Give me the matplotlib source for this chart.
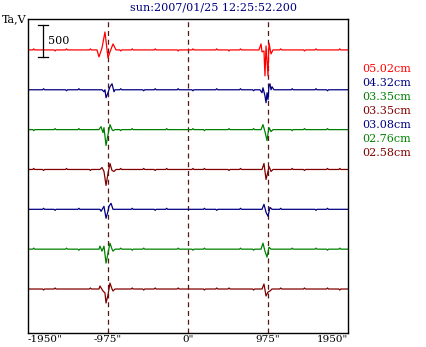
import numpy as np
import matplotlib.pyplot as plt

plt.rcParams['font.family'] = ['DejaVu Serif']

# channels, top to bottom
labels = ["05.02cm", "04.32cm", "03.35cm", "03.35cm", "03.08cm", "02.76cm", "02.58cm"]
colors = ["#ff0000", "#000080", "#008000", "#800000", "#000080", "#008000", "#800000"]
offsets = [3750, 3125, 2500, 1875, 1250, 625, 0]

# bursts near -975" : position relative to marker (arcsec) and Ta (V)
left_dx = [
    [-134, -110, -73, -37, 0, 24, 61, 98],
    [-73, -49, -37, -24, 0, 24, 49, 73, 85],
    [-110, -85, -61, -49, -24, 0, 24, 49, 61, 85],
    [-98, -73, -49, -24, 0, 24, 49, 73, 98],
    [-98, -85, -49, -24, 0, 12, 37, 61],
    [-110, -98, -73, -49, -24, 0, 24, 49, 61, 85],
    [-110, -98, -61, -37, -24, 0, 24, 49, 61, 85],
]
left_ta = [
    [0, -109, 31, 281, -125, -31, 94, 0],
    [0, -31, 0, -125, -47, 47, 94, -31, 0],
    [0, 47, -47, 31, -250, -78, 78, 0, -16, 0],
    [0, 31, -31, -250, -62, 94, -16, -31, 0],
    [0, -31, 47, -140, -31, 47, 94, 0],
    [0, 47, -31, 47, -219, -62, 94, 0, -31, 0],
    [0, 47, -31, -62, -219, -94, 94, 0, -31, 0],
]

# bursts near +975"
right_dx = [
    [-110, -85, -73, -49, -37, -24, 0, 12, 37, 61],
    [-98, -73, -61, -37, -24, -12, 0, 12, 24, 37, 49, 73],
    [-85, -61, -37, -12, 0, 12, 37, 61],
    [-73, -49, -24, 0, 12, 37, 61],
    [-73, -49, -24, 0, 24, 49],
    [-85, -61, -37, -12, 12, 37],
    [-73, -49, -24, 0, 24, 49],
]
right_ta = [
    [0, 94, -31, -16, -406, 62, -406, 109, -62, 0],
    [0, -47, 31, -94, -203, -47, -156, 62, 94, 0, 47, 0],
    [0, 78, -31, -172, -62, 31, -31, 0],
    [0, 94, -156, -31, 47, -31, 0],
    [0, 78, -47, -109, 31, 0],
    [0, 94, -31, -125, 31, 0],
    [0, 78, -109, -47, -31, 0],
]

# small ripples on the quiet baseline
ripple_x = [-1880, -1760, -1620, -1480, -1330, -1190, -820, -680, -540, -400, -260, -120,
            60, 200, 350, 500, 640, 800, 1130, 1270, 1420, 1560, 1700, 1850]
ripple_ta = [
    [16, 0, -16, 16, 0, 16, -16, 16, 0, 16, 0, -16, 16, 0, 16, -16, 16, 0, 16, 0, -16, 16, 0, 16],
    [0, 16, 0, -16, 16, 0, 16, 0, -16, 16, 0, 16, -16, 0, 16, 0, 16, -16, 0, 16, 0, 16, -16, 0],
    [-16, 0, 16, 0, 16, 0, -16, 16, 0, 0, 16, 0, 16, -16, 0, 16, 0, 16, 0, -16, 16, 0, 16, 0],
    [16, -16, 0, 16, 0, -16, 16, 0, 16, -16, 16, 0, 16, 16, 0, -16, 16, 0, 0, 16, -16, 0, 16, 16],
    [0, 16, -16, 0, 16, 0, 0, 16, 0, -16, 16, 0, 0, 16, -16, 0, 16, 0, 16, 0, 0, -16, 16, 0],
    [16, 0, 0, 16, -16, 0, 16, -16, 16, 0, 0, 16, -16, 16, 0, 0, 16, -16, 0, 16, 0, 16, -16, 16],
    [0, -16, 16, 0, 0, 16, 0, 16, -16, 16, 0, 16, 0, -16, 16, 16, 0, -16, 16, 0, 16, 0, 16, -16],
]

marks = [-975, 0, 975]
xticks = [-1950, -975, 0, 975, 1950]
xticklabels = ['-1950"', '-975"', '0"', '975"', '1950"']
title = "sun:2007/01/25 12:25:52.200"

fig = plt.figure(figsize=(4.26, 3.47), dpi=100)
ax = fig.add_axes([28 / 426, 14 / 347, 320 / 426, 314 / 347])

for i in range(len(labels)):
    xs = [-1950.0, 1950.0]
    ys = [0.0, 0.0]
    for c, a in zip(ripple_x, ripple_ta[i]):
        xs += [c - 12, c, c + 12]
        ys += [0, a, 0]
    for d, a in zip(left_dx[i], left_ta[i]):
        xs.append(-975 + d)
        ys.append(a)
    for d, a in zip(right_dx[i], right_ta[i]):
        xs.append(975 + d)
        ys.append(a)
    order = np.argsort(xs, kind='stable')
    xs = np.array(xs)[order]
    ys = np.array(ys)[order] + offsets[i]
    ax.plot(xs, ys, color=colors[i], lw=0.9, zorder=2)
    fig.text(362 / 426, 1 - (69 + 14 * i) / 347, labels[i], color=colors[i],
             fontsize=8, va='center', ha='left')

for m in marks:
    ax.axvline(m, color='#5c1616', lw=0.9, ls=(0, (4, 3)), zorder=1)

# 500 V scale bar
sx, stop, slen = -1770, 4140, 500
ax.plot([sx, sx], [stop - slen, stop], color='black', lw=0.9)
ax.plot([sx - 60, sx + 60], [stop, stop], color='black', lw=0.9)
ax.plot([sx - 60, sx + 60], [stop - slen, stop - slen], color='black', lw=0.9)
ax.text(sx + 60, stop - slen / 2, "500", fontsize=8, va='center', ha='left')

ax.set_xlim(-1950, 1950)
ax.set_ylim(-690, 4235)
ax.set_yticks([])
ax.set_xticks(xticks)
ax.set_xticklabels(xticklabels, fontsize=7.5)
ax.tick_params(axis='x', length=0, pad=1.5)
tl = ax.get_xticklabels()
tl[0].set_ha('left')
tl[-1].set_ha('right')
for s in ax.spines.values():
    s.set_linewidth(1.0)

fig.text(0.5, 1 - 8 / 347, title, color='#000080', fontsize=8, ha='center', va='center')
fig.text(2 / 426, 1 - 19 / 347, "Ta,V", fontsize=8, ha='left', va='center')

fig.savefig("out.png", dpi=100)
